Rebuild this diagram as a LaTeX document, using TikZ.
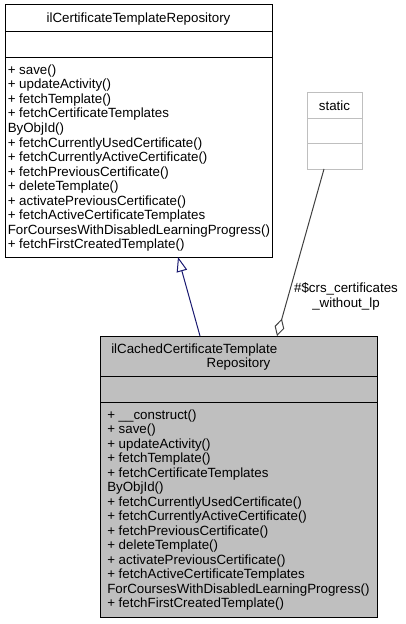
\documentclass[tikz,border=0pt]{standalone}
\usepackage{fontspec}
\setmainfont{Liberation Sans}
\usetikzlibrary{arrows.meta,calc}
\definecolor{edgeblue}{HTML}{191970}
\definecolor{boxgray}{HTML}{BFBFBF}
\definecolor{aggrgray}{HTML}{404040}
\definecolor{staticborder}{HTML}{BFBFBF}
\begin{document}
\begin{tikzpicture}[x=0.75pt,y=-0.75pt,
  box/.style={draw, line width=0.75pt, inner sep=0pt, outer sep=0pt, anchor=north west},
  txt/.style={anchor=base west, inner sep=0pt, font=\fontsize{10}{12}\selectfont},
  ctxt/.style={anchor=base, inner sep=0pt, font=\fontsize{10}{12}\selectfont},
  sep/.style={line width=0.75pt}]
\useasboundingbox (0,0) rectangle (405,624);
% base class
\node[box, fill=white, minimum width=200.25pt, minimum height=189pt] (base) at (5,5) {};
\draw[sep] ($(base.north west)+(0,27)$) -- ($(base.north east)+(0,27)$);
\draw[sep] ($(base.north west)+(0,53)$) -- ($(base.north east)+(0,53)$);
\node[ctxt] (basetitle) at ($(base.north)+(0,17.5)$) {ilCertificateTemplateRepository};
\foreach \t [count=\i from 0] in {+ save(), + updateActivity(), + fetchTemplate(), + fetchCertificateTemplates, ByObjId(), + fetchCurrentlyUsedCertificate(), + fetchCurrentlyActiveCertificate(), + fetchPreviousCertificate(), + deleteTemplate(), + activatePreviousCertificate(), + fetchActiveCertificateTemplates, ForCoursesWithDisabledLearningProgress(), + fetchFirstCreatedTemplate()}
  \node[txt] (bm\i) at ($(base.north west)+(2.5,69.5+14.5*\i)$) {\t};
% derived class
\node[box, fill=boxgray, minimum width=207.75pt, minimum height=210.75pt] (derived) at (100,336) {};
\draw[sep] ($(derived.north west)+(0,40)$) -- ($(derived.north east)+(0,40)$);
\draw[sep] ($(derived.north west)+(0,66)$) -- ($(derived.north east)+(0,66)$);
\node[txt] (dt1) at ($(derived.north west)+(11,17.5)$) {ilCachedCertificateTemplate};
\node[ctxt] (dt2) at ($(derived.north)+(0,31.5)$) {Repository};
\foreach \t [count=\i from 0] in {+ \_\_construct(), + save(), + updateActivity(), + fetchTemplate(), + fetchCertificateTemplates, ByObjId(), + fetchCurrentlyUsedCertificate(), + fetchCurrentlyActiveCertificate(), + fetchPreviousCertificate(), + deleteTemplate(), + activatePreviousCertificate(), + fetchActiveCertificateTemplates, ForCoursesWithDisabledLearningProgress(), + fetchFirstCreatedTemplate()}
  \node[txt] (dm\i) at ($(derived.north west)+(7,83.5+14.46*\i)$) {\t};
% static
\node[box, draw=staticborder, fill=white, minimum width=41.25pt, minimum height=57pt] (static) at (307,93) {};
\draw[sep, staticborder] ($(static.north west)+(0,26)$) -- ($(static.north east)+(0,26)$);
\draw[sep, staticborder] ($(static.north west)+(0,51)$) -- ($(static.north east)+(0,51)$);
\node[ctxt] (stitle) at ($(static.north)+(0,17.5)$) {static};
% edges
\draw[edgeblue, line width=0.75pt, -{Triangle[open, length=11pt, width=8pt]}]
  ($(derived.north west)+(100,0)$) -- ($(base.south west)+(173,0)$);
\draw[aggrgray, line width=0.75pt, -{Diamond[open, length=13.5pt, width=7.5pt]}]
  ($(static.south west)+(17,0)$) -- ($(derived.north west)+(177,0)$);
\node[ctxt] (lbl1) at (346,292.5) {\#\$crs\_certificates};
\node[ctxt] (lbl2) at (346,307.5) {\_without\_lp};
\end{tikzpicture}
\end{document}
